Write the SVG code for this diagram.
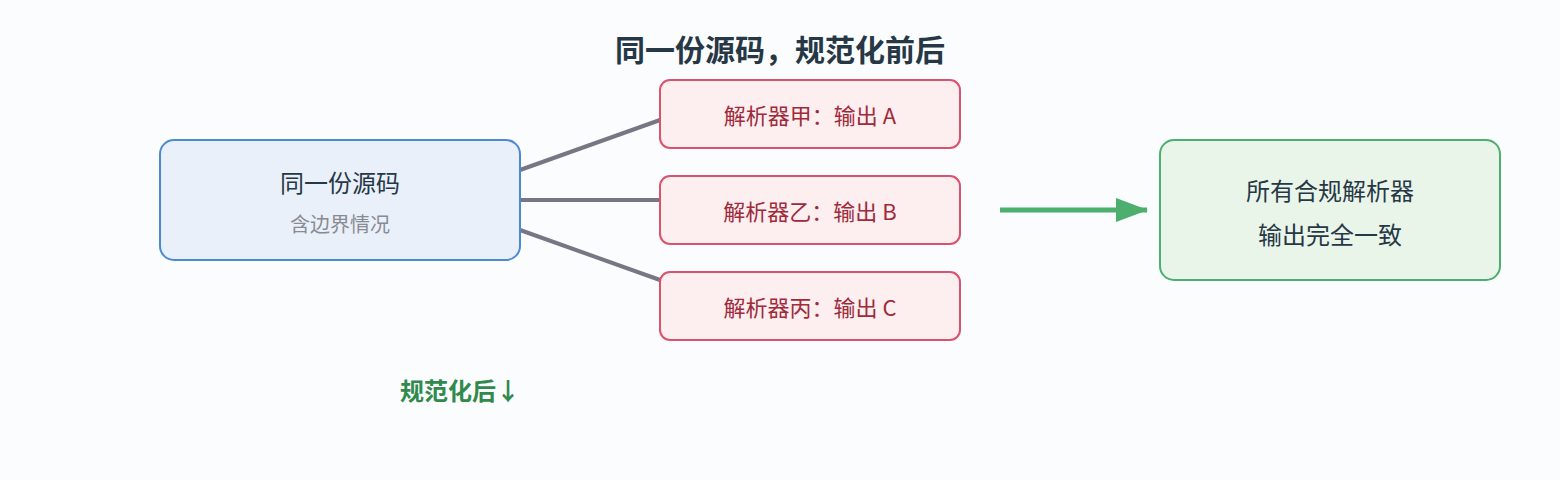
<svg xmlns="http://www.w3.org/2000/svg" width="1560" height="480" viewBox="0 0 1560 480">
<style>
text{font-family:"Noto Sans CJK SC","Noto Sans",sans-serif;text-anchor:middle}
.red rect{fill:#fdeef0;stroke:#d9536b;stroke-width:2}
.red text{fill:#9e2a3a;font-size:22px}
.c{stroke:#787685;stroke-width:4;fill:none}
</style>
<defs><marker id="ah" markerUnits="userSpaceOnUse" markerWidth="32" markerHeight="24" refX="31" refY="12" orient="auto"><path d="M0,0 L32,12 L0,24 Z" fill="#4caf6e"/></marker></defs>
<rect width="1560" height="480" fill="#fbfcfe"/>
<text x="780" y="61" font-size="30" font-weight="bold" fill="#263845">同一份源码，规范化前后</text>
<g id="connectors">
<line class="c" x1="520" y1="170" x2="660" y2="120"/>
<line class="c" x1="520" y1="200" x2="660" y2="200"/>
<line class="c" x1="520" y1="230" x2="660" y2="280"/>
<line x1="1000" y1="210" x2="1147" y2="210" stroke="#4caf6e" stroke-width="5" marker-end="url(#ah)"/>
</g>
<g id="src"><rect x="160" y="140" width="360" height="120" rx="14" fill="#e9f0fa" stroke="#4a8ad4" stroke-width="2"/>
<text x="340" y="192" font-size="24" fill="#263845">同一份源码</text>
<text x="340" y="232" font-size="20" fill="#8a8a92">含边界情况</text></g>
<g id="pa" class="red"><rect x="660" y="80" width="300" height="68" rx="10"/><text x="810" y="124">解析器甲：输出 A</text></g>
<g id="pb" class="red"><rect x="660" y="176" width="300" height="68" rx="10"/><text x="810" y="220">解析器乙：输出 B</text></g>
<g id="pc" class="red"><rect x="660" y="272" width="300" height="68" rx="10"/><text x="810" y="316">解析器丙：输出 C</text></g>
<g id="out"><rect x="1160" y="140" width="340" height="140" rx="14" fill="#eaf5ea" stroke="#4caf6e" stroke-width="2"/>
<text x="1330" y="200" font-size="24" fill="#263845">所有合规解析器</text>
<text x="1330" y="244" font-size="24" fill="#263845">输出完全一致</text></g>
<text x="460" y="400" font-size="24" font-weight="bold" fill="#2f8a4c">规范化后↓</text>
</svg>
